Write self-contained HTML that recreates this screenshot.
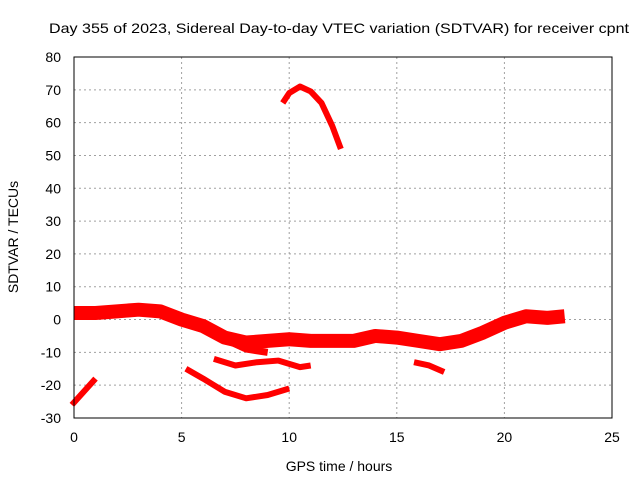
<!DOCTYPE html>
<html><head><meta charset="utf-8"><style>
body{margin:0;background:#fff}
svg{display:block;font-family:"Liberation Sans",sans-serif}
</style></head><body>
<svg id="chart" width="640" height="480" viewBox="0 0 640 480">
<rect width="640" height="480" fill="#fff"/>
<text x="339" y="33" font-size="14" text-anchor="middle" textLength="580" lengthAdjust="spacingAndGlyphs">Day 355 of 2023, Sidereal Day-to-day VTEC variation (SDTVAR) for receiver cpnt</text>
<g id="grid"></g>
<g id="series"></g>
<rect x="74" y="57" width="538" height="361" fill="none" stroke="#000" stroke-width="1"/>
<g id="ticks"></g>
<text x="339" y="471" font-size="14" text-anchor="middle">GPS time / hours</text>
<text transform="translate(18,237) rotate(-90)" font-size="14" text-anchor="middle">SDTVAR / TECUs</text>
</svg>
<script>
const xTicks=[0,5,10,15,20,25];
const yTicks=[-30,-20,-10,0,10,20,30,40,50,60,70,80];
const mainBandX=[0,1,2,3,4,5,6,7,8,9,10,11,12,13,14,15,16,17,18,19,20,21,22,22.8];
const mainBandY=[2,2,2.5,3,2.5,0,-2,-5.5,-7,-6.5,-6,-6.5,-6.5,-6.5,-5,-5.5,-6.5,-7.5,-6.5,-4,-1,1,0.5,1];
const branchX=[5,6,7,8,9];
const branchY=[-1,-3,-6,-9,-10];
const arcBX=[6.5,7.5,8.5,9.5,10.5,11];
const arcBY=[-12,-14,-13,-12.5,-14.5,-14];
const arcCX=[5.2,6,7,8,9,10];
const arcCY=[-15,-18,-22,-24,-23,-21];
const arcDX=[15.8,16.5,17.2];
const arcDY=[-13,-14,-16];
const arcEX=[-0.1,1];
const arcEY=[-26,-18];
const arcFX=[9.7,10,10.5,11,11.5,12,12.4];
const arcFY=[66,69,71,69.5,66,59,52];
const NS='http://www.w3.org/2000/svg';
const sx=v=>74+v*538/25;
const sy=v=>418-(v+30)*361/110;
const grid=document.getElementById('grid'),ticks=document.getElementById('ticks'),ser=document.getElementById('series');
function mk(t,a,p){const e=document.createElementNS(NS,t);for(const k in a)e.setAttribute(k,a[k]);p.appendChild(e);return e;}
xTicks.forEach(v=>{
 if(v>0&&v<25){const l=mk('line',{x1:sx(v),x2:sx(v),y1:57,y2:418,stroke:'#a0a0a0','stroke-dasharray':'2,3'},grid);
 
 }
 const t=mk('text',{x:sx(v),y:442,'font-size':14,'text-anchor':'middle'},ticks);t.textContent=v;
 
 
});
yTicks.forEach(v=>{
 if(v>-30&&v<80){const l=mk('line',{x1:74,x2:612,y1:sy(v),y2:sy(v),stroke:'#a0a0a0','stroke-dasharray':'2,3'},grid);
 
 }
 const t=mk('text',{x:61,y:sy(v)+5,'font-size':14,'text-anchor':'end'},ticks);t.textContent=v;
 
 
});
function track(xs,ys,w,name){
 const pts=xs.map((x,i)=>sx(x)+','+sy(ys[i])).join(' ');
 const p=mk('polyline',{points:pts,fill:'none',stroke:'#ff0000','stroke-width':w,'stroke-linejoin':'round','stroke-linecap':'butt'},ser);
 
 
}
track(mainBandX,mainBandY,14,'main-band-series');
track(branchX,branchY,7,'branch-series');
track(arcBX,arcBY,6,'arc-b-series');
track(arcCX,arcCY,6,'arc-c-series');
track(arcDX,arcDY,6,'arc-d-series');
track(arcEX,arcEY,6,'arc-e-series');
track(arcFX,arcFY,6,'arc-f-series');
</script>
</body></html>
